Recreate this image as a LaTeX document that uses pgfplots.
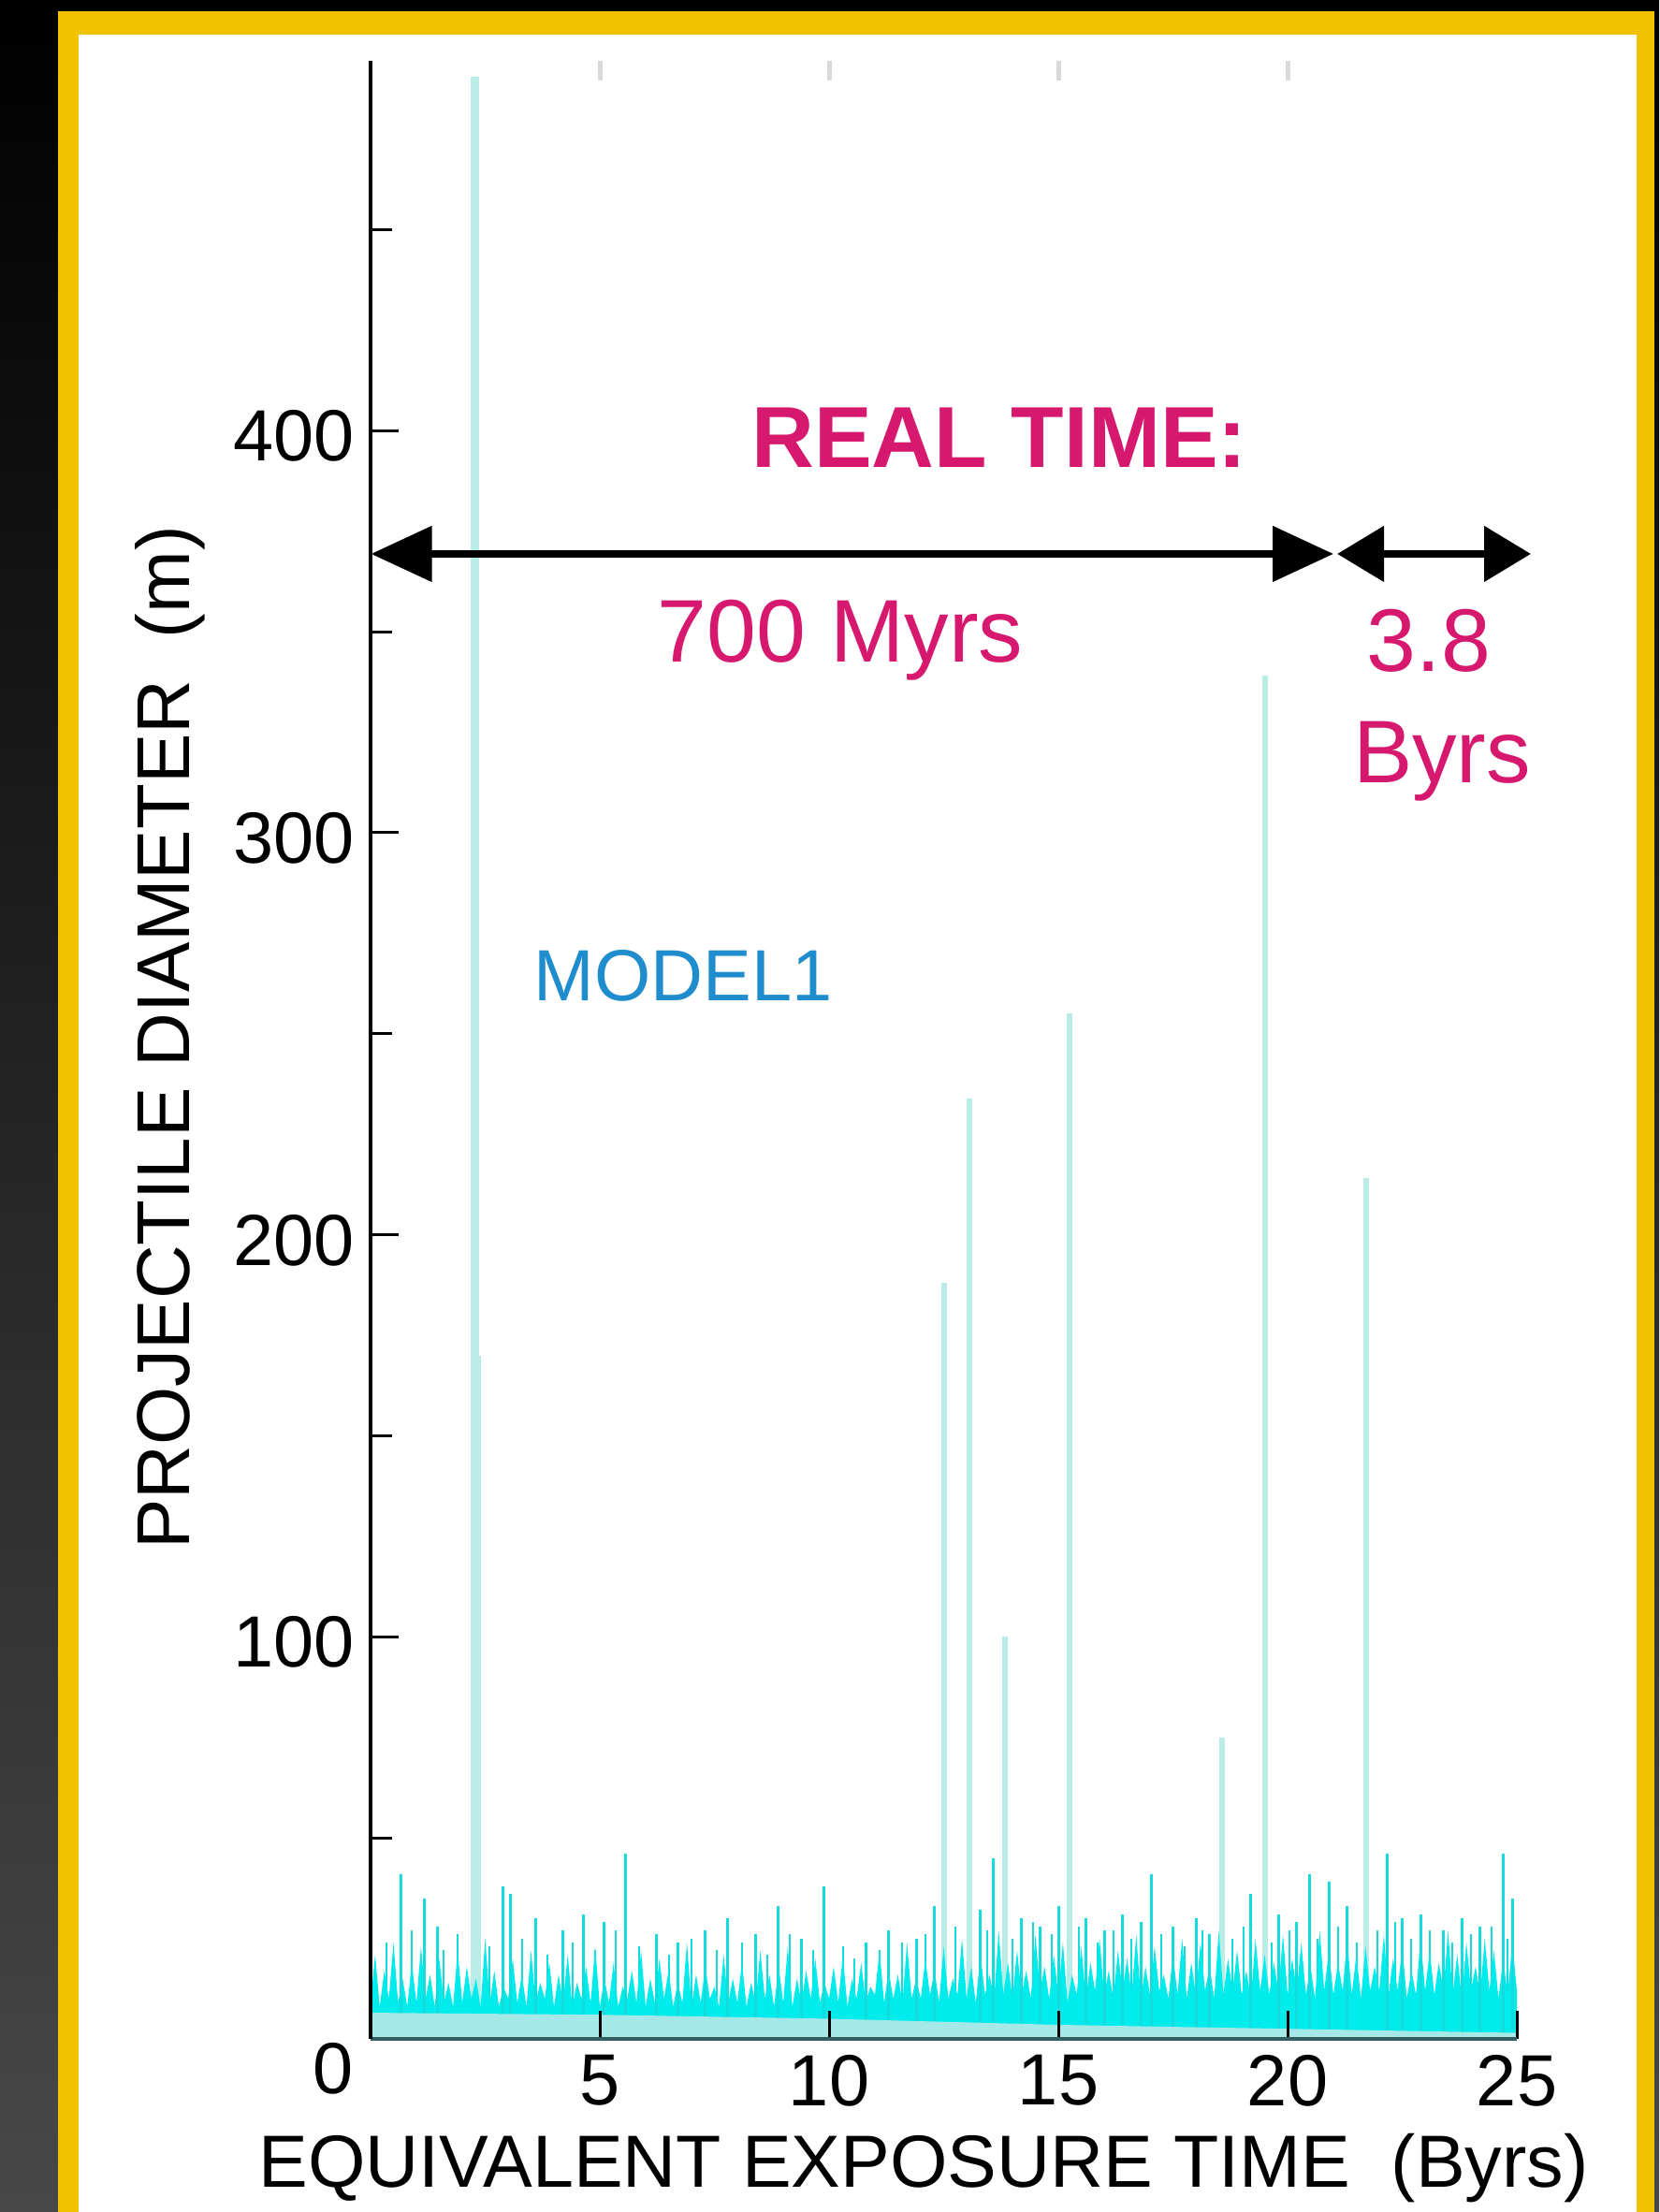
\documentclass[border=0pt]{standalone}
\usepackage{fontspec}
\setmainfont{Liberation Sans}
\usepackage{pgfplots}
\pgfplotsset{compat=1.18}
\usetikzlibrary{arrows.meta}
\definecolor{magentaT}{RGB}{214,24,110}
\definecolor{modelblue}{RGB}{30,140,205}
\definecolor{gold}{RGB}{242,194,0}
\definecolor{vivid}{RGB}{0,236,236}
\definecolor{palec}{RGB}{165,232,232}
\definecolor{tallc}{RGB}{185,236,230}
\definecolor{medc}{RGB}{20,220,220}
\definecolor{axteal}{RGB}{50,95,100}
\definecolor{darkbg}{RGB}{72,72,72}
\begin{document}
\begin{tikzpicture}
\useasboundingbox (0pt,0pt) rectangle (354.6pt,472.8pt);
\shade[top color=black, bottom color=darkbg] (0pt,0pt) rectangle (354.6pt,472.8pt);
\fill[gold] (12.4pt,0pt) rectangle (353.6pt,470.4pt);
\fill[white] (16.8pt,0pt) rectangle (349.8pt,465.4pt);
\begin{axis}[
  at={(79.2pt,37pt)}, anchor=south west,
  scale only axis, width=245pt, height=422.8pt,
  xmin=0, xmax=25, ymin=0, ymax=492,
  axis x line*=bottom, axis y line*=left,
  axis line style={-},
  x axis line style={axteal, line width=0.9pt},
  y axis line style={black, line width=0.7pt},
  axis on top=true,
  xtick={5,10,15,20,25},
  ytick={100,200,300,400},
  minor ytick={50,150,250,350,450},
  extra x ticks={0},
  extra x tick labels={0},
  extra x tick style={major tick length=0pt, xticklabel style={xshift=-8pt, yshift=2.6pt}},
  tick align=inside,
  major tick length=6pt, minor tick length=4.5pt,
  tick style={black, line width=0.6pt},
  tick label style={font=\fontsize{15.5}{18}\selectfont},
  yticklabel style={yshift=-1.2pt},
  /pgf/number format/assume math mode=true,
  no markers,
  clip=true,
]
% tall isolated spikes
\addplot[ycomb, tallc, line width=1.8pt] coordinates {(2.27,488)};
\addplot[ycomb, tallc, line width=1.1pt] coordinates {
(2.35,170)(12.51,188)(13.06,234)(13.84,100)(15.24,255)(18.57,75)(19.51,339)(21.71,214)};
% thin needles of the dense background
\addplot[ycomb, medc, line width=0.4pt] coordinates {
(0.35,24)(0.9,27)(1.6,22)(1.9,26)(2.6,23)(3.3,25)(3.85,21)(4.4,24)(4.9,22)(5.35,27)(5.85,23)(6.5,21)(7.0,25)(7.55,22)(8.1,24)(8.65,21)(9.15,26)(9.65,22)(10.3,23)(10.55,20)(11.1,22)(11.6,24)(12.1,26)(12.75,28)(13.45,27)(14.0,25)(14.45,29)(14.85,26)(15.45,28)(15.85,24)(16.2,27)(16.6,25)(17.25,26)(17.75,23)(18.15,27)(18.8,25)(19.05,28)(19.65,24)(20.05,27)(20.65,25)(21.1,28)(21.5,24)(21.95,27)(22.35,29)(22.7,25)(23.1,27)(23.6,24)(24.0,26)(24.45,28)(24.8,25)};
% dense low-level impacts
\addplot[draw=none, fill=vivid] coordinates {
(0.0,9)(0.1,21)(0.2,8)(0.3,17)(0.4,10)(0.5,24)(0.6,9)(0.7,15)(0.8,8)(0.9,19)(1.0,9)(1.1,23)(1.2,10)(1.3,16)(1.4,8)(1.5,20)(1.6,9)(1.7,14)(1.8,8)(1.9,22)
(2.0,9)(2.1,18)(2.2,10)(2.3,15)(2.4,8)(2.5,25)(2.6,9)(2.7,17)(2.8,8)(2.9,13)(3.0,10)(3.1,20)(3.2,9)(3.3,16)(3.4,8)(3.5,22)(3.6,9)(3.7,14)(3.8,10)(3.9,19)
(4.0,8)(4.1,16)(4.2,9)(4.3,21)(4.4,8)(4.5,14)(4.6,10)(4.7,18)(4.8,9)(4.9,23)(5.0,8)(5.1,15)(5.2,9)(5.3,19)(5.4,8)(5.5,13)(5.6,10)(5.7,17)(5.8,9)(5.9,22)
(6.0,8)(6.1,15)(6.2,9)(6.3,20)(6.4,10)(6.5,17)(6.6,8)(6.7,14)(6.8,9)(6.9,24)(7.0,8)(7.1,16)(7.2,9)(7.3,18)(7.4,10)(7.5,13)(7.6,8)(7.7,21)(7.8,9)(7.9,15)
(8.0,9)(8.1,19)(8.2,8)(8.3,14)(8.4,9)(8.5,22)(8.6,10)(8.7,16)(8.8,8)(8.9,18)(9.0,9)(9.1,23)(9.2,8)(9.3,15)(9.4,9)(9.5,17)(9.6,10)(9.7,20)(9.8,9)(9.9,14)
(10.0,10)(10.1,18)(10.2,9)(10.3,21)(10.4,8)(10.5,15)(10.6,10)(10.7,19)(10.8,9)(10.9,13)(11.0,11)(11.1,22)(11.2,9)(11.3,17)(11.4,10)(11.5,16)(11.6,9)(11.7,24)(11.8,10)(11.9,15)
(12.0,10)(12.1,20)(12.2,11)(12.3,17)(12.4,9)(12.5,23)(12.6,10)(12.7,15)(12.8,11)(12.9,25)(13.0,10)(13.1,18)(13.2,9)(13.3,21)(13.4,11)(13.5,16)(13.6,10)(13.7,27)(13.8,11)(13.9,19)
(14.0,10)(14.1,22)(14.2,11)(14.3,17)(14.4,10)(14.5,26)(14.6,12)(14.7,18)(14.8,10)(14.9,21)(15.0,11)(15.1,24)(15.2,9)(15.3,16)(15.4,11)(15.5,23)(15.6,10)(15.7,19)(15.8,12)(15.9,25)
(16.0,11)(16.1,17)(16.2,10)(16.3,22)(16.4,12)(16.5,20)(16.6,11)(16.7,26)(16.8,10)(16.9,18)(17.0,11)(17.1,23)(17.2,12)(17.3,16)(17.4,10)(17.5,21)(17.6,11)(17.7,25)(17.8,10)(17.9,19)
(18.0,11)(18.1,24)(18.2,12)(18.3,18)(18.4,10)(18.5,27)(18.6,11)(18.7,20)(18.8,12)(18.9,22)(19.0,11)(19.1,17)(19.2,10)(19.3,25)(19.4,12)(19.5,21)(19.6,11)(19.7,19)(19.8,12)(19.9,26)
(20.0,11)(20.1,20)(20.2,12)(20.3,24)(20.4,11)(20.5,18)(20.6,10)(20.7,27)(20.8,12)(20.9,22)(21.0,11)(21.1,19)(21.2,12)(21.3,25)(21.4,11)(21.5,21)(21.6,10)(21.7,23)(21.8,12)(21.9,18)
(22.0,12)(22.1,26)(22.2,11)(22.3,20)(22.4,12)(22.5,23)(22.6,10)(22.7,17)(22.8,11)(22.9,25)(23.0,12)(23.1,22)(23.2,11)(23.3,19)(23.4,12)(23.5,27)(23.6,11)(23.7,21)(23.8,10)(23.9,24)
(24.0,12)(24.1,18)(24.2,11)(24.3,25)(24.4,12)(24.5,22)(24.6,10)(24.7,20)(24.8,11)(24.9,24)(25.0,12)
} \closedcycle;
% medium spikes
\addplot[ycomb, medc, line width=0.6pt] coordinates {
(0.67,41)(1.18,35)(1.45,28)(2.88,38)(3.05,36)(3.6,30)(4.2,27)(4.64,31)(5.1,29)(5.57,46)(6.24,26)(6.7,24)(7.3,27)(7.78,30)(8.4,26)(8.88,33)(9.4,25)(9.89,38)(10.8,24)(11.3,27)(11.9,25)(12.3,33)(13.3,32)(13.58,45)(14.2,30)(14.6,28)(15.0,33)(15.6,30)(16.0,27)(16.4,31)(16.8,29)(17.03,41)(17.5,28)(18.0,30)(18.3,26)(19.2,36)(19.8,31)(20.2,29)(20.47,41)(20.9,39)(21.3,33)(22.17,46)(22.5,30)(22.9,31)(23.4,27)(23.8,30)(24.2,28)(24.7,46)(24.9,35)};
% pale base band
\addplot[draw=none, fill=palec] coordinates {(0,6.5)(5,6)(10,5)(15,3.5)(20,2.5)(25,1.5)} \closedcycle;
% faint top ticks
\draw[black!15, line width=1pt] (axis cs:5,487) -- (axis cs:5,492) (axis cs:10,487) -- (axis cs:10,492) (axis cs:15,487) -- (axis cs:15,492) (axis cs:20,487) -- (axis cs:20,492);
\end{axis}
% labels
\node[rotate=90, anchor=center, font=\fontsize{16}{19}\selectfont] at (36.4pt,251pt) {PROJECTILE DIAMETER\ \ (m)};
\node[anchor=base, font=\fontsize{15.8}{19}\selectfont, inner sep=0pt] at (197.4pt,5.2pt) {EQUIVALENT EXPOSURE TIME\ \ (Byrs)};
% annotations
\node[anchor=base, inner sep=0pt, text=magentaT, font=\fontsize{18.5}{22}\selectfont\bfseries] at (213.6pt,372.8pt) {REAL TIME:};
\draw[line width=1.6pt, {Triangle[length=13pt,width=11.6pt]}-{Triangle[length=13pt,width=11.6pt]}] (79.3pt,354.4pt) -- (285pt,354.4pt);
\draw[line width=1.6pt, {Triangle[length=10pt,width=11.6pt]}-{Triangle[length=10pt,width=11.6pt]}] (285.8pt,354.4pt) -- (327.2pt,354.4pt);
\node[anchor=base, inner sep=0pt, text=magentaT, font=\fontsize{19}{22}\selectfont] at (179.6pt,331.2pt) {700 Myrs};
\node[anchor=base, inner sep=0pt, text=magentaT, font=\fontsize{19}{22}\selectfont] at (305.4pt,329.2pt) {3.8};
\node[anchor=base, inner sep=0pt, text=magentaT, font=\fontsize{19}{22}\selectfont] at (308.2pt,305.4pt) {Byrs};
\node[anchor=base, inner sep=0pt, text=modelblue, font=\fontsize{15.5}{18}\selectfont] at (146pt,258.8pt) {MODEL1};
\end{tikzpicture}
\end{document}
